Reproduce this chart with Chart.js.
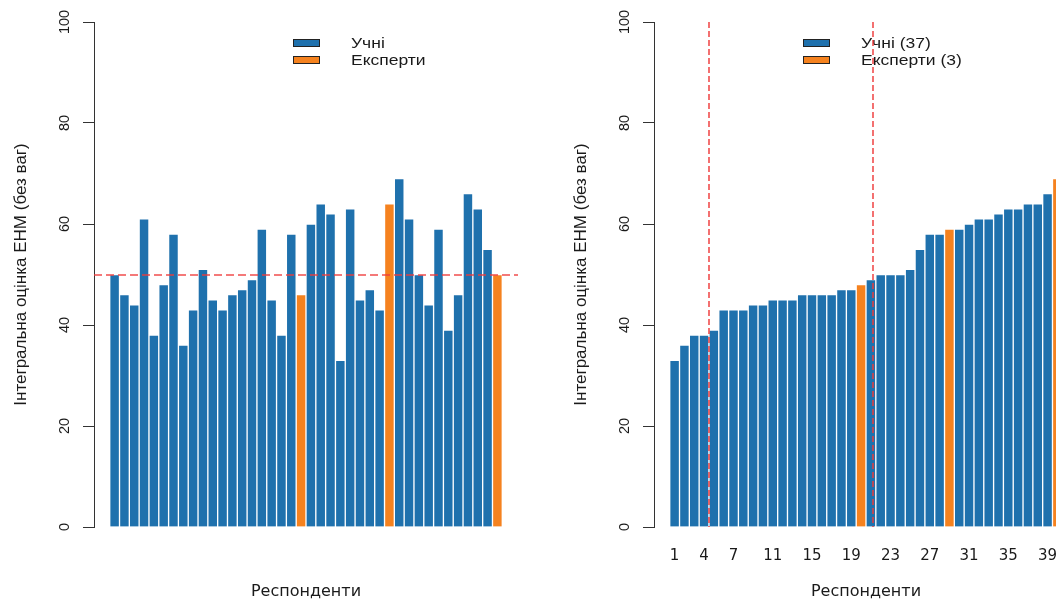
<!DOCTYPE html>
<html lang="uk">
<head>
<meta charset="utf-8">
<title>Інтегральна оцінка ЕНМ</title>
<script src="https://cdn.jsdelivr.net/npm/chart.js@4.4.1/dist/chart.umd.min.js"></script>
<style>
  html, body { margin: 0; padding: 0; background: #fff; overflow: hidden; }
  .wrap { position: relative; width: 1056px; height: 601px; overflow: hidden; }
  .panel { position: absolute; top: 0; width: 560px; height: 601px; }
  #left { left: 0; }
  #right { left: 560px; }
</style>
</head>
<body>
<div class="wrap">
  <div class="panel" id="left"><canvas id="leftChart" width="560" height="601"></canvas></div>
  <div class="panel" id="right"><canvas id="rightChart" width="560" height="601"></canvas></div>
</div>
<script>
// Ліва панель: респонденти в порядку опитування
const leftScores = [50, 46, 44, 61, 38, 48, 58, 36, 43, 51, 45, 43, 46, 47, 49, 59, 45, 38, 58, 46,
                    60, 64, 62, 33, 63, 45, 47, 43, 64, 69, 61, 50, 44, 59, 39, 46, 66, 63, 55, 50];
const leftExperts = [20, 29, 40];          // номери експертів
const leftHLines = [50];                   // горизонтальна пунктирна лінія
const leftLegend = ['Учні', 'Експерти'];

// Права панель: відсортовано за зростанням
const rightScores = [33, 36, 38, 38, 39, 43, 43, 43, 44, 44, 45, 45, 45, 46, 46, 46, 46, 47, 47, 48,
                     49, 50, 50, 50, 51, 55, 58, 58, 59, 59, 60, 61, 61, 62, 63, 63, 64, 64, 66, 69];
const rightExperts = [20, 29, 40];
const rightVLines = [4, 20.75];            // вертикальні межі (в одиницях стовпців)
const rightTickBars = [1, 4, 7, 11, 15, 19, 23, 27, 31, 35, 39];
const rightLegend = ['Учні (37)', 'Експерти (3)'];

const yTicks = [0, 20, 40, 60, 80, 100];

// Кольори
const colors = {
    student: '#1f71ad',
    expert: '#f5821f',
    line: '#ee3b3b',
    axis: '#333333',
    text: '#1a1a1a'
};
const fontFamily = '"Liberation Sans", Arial, Helvetica, sans-serif';
const wideFamily = '"DejaVu Sans", Verdana, sans-serif';

// точки для стовпців: центр i-го стовпця = i + 0.5
function toPoints(scores, experts, isExpert) {
    return scores
        .map((v, i) => ({ x: i + 0.5, y: v, n: i + 1 }))
        .filter(p => experts.includes(p.n) === isExpert);
}

// Легенда та пунктирні лінії в стилі R
const rExtras = {
    id: 'rExtras',
    afterDatasetsDraw(chart, args, o) {
        const ctx = chart.ctx;
        const area = chart.chartArea;
        const xs = chart.scales.x;
        const ys = chart.scales.y;

        ctx.save();
        ctx.font = '14px ' + fontFamily;
        ctx.textBaseline = 'middle';
        ctx.textAlign = 'left';
        chart.data.datasets.forEach((ds, k) => {
            const y = o.legendY + k * o.legendStep;
            ctx.fillStyle = ds.backgroundColor;
            ctx.fillRect(o.legendX, y - 4, 27, 8);
            ctx.strokeStyle = '#222';
            ctx.lineWidth = 1;
            ctx.strokeRect(o.legendX + 0.5, y - 3.5, 26, 7);
            // текст трохи розтягнутий по горизонталі, як в оригіналі
            ctx.save();
            ctx.translate(o.legendX + 58, y + 1);
            ctx.scale(1.25, 1);
            ctx.fillStyle = colors.text;
            ctx.fillText(ds.label, 0, 0);
            ctx.restore();
        });

        ctx.strokeStyle = colors.line;
        ctx.globalAlpha = 0.9;
        ctx.lineWidth = 1.6;
        ctx.setLineDash([8, 4]);
        (o.hLines || []).forEach(v => {
            const y = Math.round(ys.getPixelForValue(v));
            ctx.beginPath();
            ctx.moveTo(area.left, y);
            ctx.lineTo(area.right, y);
            ctx.stroke();
        });
        ctx.setLineDash([6, 3]);
        (o.vLines || []).forEach(v => {
            const x = Math.round(xs.getPixelForValue(v));
            ctx.beginPath();
            ctx.moveTo(x, area.top);
            ctx.lineTo(x, area.bottom);
            ctx.stroke();
        });
        ctx.restore();
    }
};

function makeChart(id, scores, experts, legend, extras, tickBars) {
    const barStyle = {
        grouped: false,
        barPercentage: 1,
        categoryPercentage: 1,
        borderWidth: 1,
        borderColor: 'rgba(255, 255, 255, 0.45)'
    };
    return new Chart(document.getElementById(id), {
        type: 'bar',
        data: {
            datasets: [
                Object.assign({ label: legend[0], data: toPoints(scores, experts, false), backgroundColor: colors.student }, barStyle),
                Object.assign({ label: legend[1], data: toPoints(scores, experts, true), backgroundColor: colors.expert }, barStyle)
            ]
        },
        options: {
            responsive: false,
            animation: false,
            devicePixelRatio: 1,
            layout: { padding: { top: 22, right: 42, bottom: 0, left: 0 } },
            plugins: {
                legend: { display: false },
                tooltip: { enabled: false },
                rExtras: extras
            },
            scales: {
                x: {
                    type: 'linear',
                    min: -1.6,
                    max: scores.length + 1.6,
                    offset: false,
                    grid: { display: false },
                    border: { display: false },
                    afterBuildTicks: s => {
                        if (tickBars) s.ticks = tickBars.map(b => ({ value: b - 0.5 }));
                    },
                    ticks: {
                        display: !!tickBars,
                        autoSkip: false,
                        maxRotation: 0,
                        padding: 12,
                        color: colors.text,
                        font: { family: wideFamily, size: 15 },
                        callback: v => String(Math.round(v + 0.5))
                    },
                    title: {
                        display: true,
                        text: 'Респонденти',
                        color: colors.text,
                        font: { family: wideFamily, size: 16 },
                        padding: { top: 0, bottom: 0 }
                    },
                    afterFit: s => { s.height = 74; }
                },
                y: {
                    min: 0,
                    max: 100,
                    afterBuildTicks: s => { s.ticks = yTicks.map(v => ({ value: v })); },
                    grid: {
                        drawOnChartArea: false,
                        drawTicks: true,
                        tickLength: 11,
                        color: colors.axis
                    },
                    border: { display: true, color: colors.axis, width: 1 },
                    ticks: {
                        minRotation: 90,
                        maxRotation: 90,
                        crossAlign: 'center',
                        padding: 6,
                        color: colors.text,
                        font: { family: fontFamily, size: 14.5 }
                    },
                    title: {
                        display: true,
                        text: 'Інтегральна оцінка ЕНМ (без ваг)',
                        color: colors.text,
                        font: { family: fontFamily, size: 17 },
                        padding: { top: 11, bottom: 0 }
                    },
                    afterFit: s => { s.width = 94; }
                }
            }
        },
        plugins: [rExtras]
    });
}

makeChart('leftChart', leftScores, leftExperts, leftLegend,
    { legendX: 293, legendY: 43, legendStep: 17, hLines: leftHLines }, null);
makeChart('rightChart', rightScores, rightExperts, rightLegend,
    { legendX: 243, legendY: 43, legendStep: 17, vLines: rightVLines }, rightTickBars);
</script>
</body>
</html>
